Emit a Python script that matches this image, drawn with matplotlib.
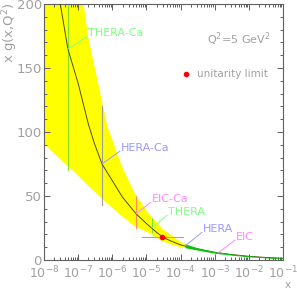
import numpy as np
import matplotlib
matplotlib.use('Agg')
import matplotlib.pyplot as plt
from matplotlib.ticker import FixedLocator, MultipleLocator, NullFormatter

# ---------------- data ----------------
curve_x = [1e-8, 2e-8, 3e-8, 5e-8, 1e-7, 2e-7, 3e-7, 5e-7, 1e-6, 2e-6, 5e-6,
           1e-5, 2e-5, 3e-5, 5e-5, 1e-4, 2e-4, 5e-4, 1e-3, 3e-3, 1e-2, 3e-2, 1e-1]
curve_y = [290, 230, 200, 165, 138, 106, 91, 75, 62, 49, 36,
           28.5, 21.5, 18, 15, 11.8, 9.8, 7.5, 6.0, 4.3, 2.9, 2.0, 1.3]

band_x = [1e-8, 2e-8, 7e-8, 1.39e-7, 1.95e-7, 7.5e-7, 1.7e-6, 3.8e-6, 1e-5, 3e-5, 1e-4, 2e-4, 3e-4]
band_hi = [500, 400, 260, 200, 174, 101.6, 76, 55, 38, 24, 14, 10.6, 9.0]
band_lo_x = [1e-8, 2e-8, 7e-8, 2e-7, 7e-7, 2e-6, 4.7e-6, 1.26e-5, 3e-5, 1e-4, 2e-4, 3e-4]
band_lo = [91, 83, 70, 58, 44.5, 34, 26, 21, 14.5, 10.0, 9.0, 8.4]

green_x = [1.35e-4, 3e-4, 1e-3, 3e-3, 1e-2, 3e-2, 1e-1]
green_lo = [9.6, 7.8, 5.3, 3.8, 2.5, 1.7, 1.0]
green_hi = [12.6, 9.7, 6.6, 4.8, 3.3, 2.3, 1.5]

meas_names = ['THERA-Ca', 'HERA-Ca', 'EIC-Ca', 'THERA', 'HERA', 'EIC']
meas_x = [5.0e-8, 5.0e-7, 4.95e-6, 1.45e-5, 1.35e-4, 1.25e-3]
meas_y = [165, 75, 36, 25, 11, 5.5]
meas_lo = [70, 43, 25, 22, None, None]
meas_hi = [260, 120, 50, 33, None, None]

unit_x = 2.9e-5
unit_y = 18
unit_xlo = 7.4e-6
unit_xhi = 1.2e-4

xtick_vals = [1e-8, 1e-7, 1e-6, 1e-5, 1e-4, 1e-3, 1e-2, 1e-1]
xtick_labels = ['$10^{-8}$', '$10^{-7}$', '$10^{-6}$', '$10^{-5}$',
                '$10^{-4}$', '$10^{-3}$', '$10^{-2}$', '$10^{-1}$']
ytick_vals = [0, 50, 100, 150, 200]

# ---------------- style ----------------
txt_gray = '#a0a0a0'
axis_gray = '#606060'
meas_text_colors = ['#80ff80', '#9a9aff', '#ff88ff', '#80ff80', '#9a9aff', '#ff88ff']
meas_bar_colors = ['#88e020', '#a0a090', '#ff9060', '#80e040', None, None]
text_pos = [(1.95e-7, 177), (1.8e-6, 87.5), (1.45e-5, 47.7), (4.3e-5, 37.5),
            (4.5e-4, 24), (4.2e-3, 18)]

fig = plt.figure(figsize=(2.97, 2.89), dpi=100)
ax = fig.add_axes([44/297, 29/289, 239/297, 256/289])
ax.set_xscale('log')
ax.set_xlim(1e-8, 1e-1)
ax.set_ylim(0, 200)

ax.fill_between(band_x, band_hi, np.interp(np.log10(band_x), np.log10(band_lo_x), band_lo),
                color='#ffff00', lw=0, zorder=1)
lo_on_hi = np.interp(np.log10(band_lo_x), np.log10(band_x), band_hi)
ax.fill_between(band_lo_x, band_lo, lo_on_hi, color='#ffff00', lw=0, zorder=1)

for i in range(len(meas_names)):
    if meas_lo[i] is not None:
        ax.plot([meas_x[i], meas_x[i]], [meas_lo[i], meas_hi[i]],
                color=meas_bar_colors[i], lw=0.8, zorder=2)

ax.plot(curve_x, curve_y, color='#505010', lw=0.7, zorder=3)
ax.fill_between(green_x, green_lo, green_hi, color='#10c010', lw=0, zorder=4)

ax.plot([unit_xlo, unit_xhi], [unit_y, unit_y], color='#ff8080', lw=0.8, zorder=5)
ax.plot([unit_x], [unit_y], 'o', color='#ff0000', ms=4, mew=0, zorder=6)

for i, name in enumerate(meas_names):
    tx, ty = text_pos[i]
    c = meas_text_colors[i]
    ax.plot([meas_x[i], tx * 0.93], [meas_y[i], ty - 2.5], color=c, lw=0.7, zorder=5)
    ax.text(tx, ty, name, color=c, fontsize=8, ha='left', va='center', zorder=7)

ax.text(5.9e-4, 172.7, 'Q$^2$=5 GeV$^2$', color=txt_gray, fontsize=8, ha='left', va='center')
ax.plot([1.45e-4], [145], 'o', color='#ff0000', ms=4, mew=0, clip_on=False)
ax.text(3.0e-4, 145, 'unitarity limit', color=txt_gray, fontsize=7.5, ha='left', va='center')

ax.xaxis.set_major_locator(FixedLocator(xtick_vals))
ax.set_xticklabels(xtick_labels)
minors = [m * 10.0**e for e in range(-8, -1) for m in range(2, 10)]
ax.xaxis.set_minor_locator(FixedLocator(minors))
ax.xaxis.set_minor_formatter(NullFormatter())
ax.set_yticks(ytick_vals)
ax.yaxis.set_minor_locator(MultipleLocator(10))

ax.tick_params(which='both', direction='in', top=True, right=True,
               color=axis_gray, labelcolor=txt_gray, width=0.7)
ax.tick_params(which='major', length=4)
ax.tick_params(which='minor', length=2)
ax.tick_params(axis='y', pad=1.5, labelsize=9.5)
ax.tick_params(axis='x', pad=3.5, labelsize=9)
for s in ax.spines.values():
    s.set_color(axis_gray)
    s.set_linewidth(0.8)

fig.text(10/297, 1 - 3/289, 'x g(x,Q$^2$)', rotation=90, ha='center', va='top',
         color=txt_gray, fontsize=9.5)
fig.text(288/297, 1 - 284.5/289, 'x', ha='center', va='center', color=txt_gray, fontsize=7.5)

fig.savefig('out.png', dpi=100)
